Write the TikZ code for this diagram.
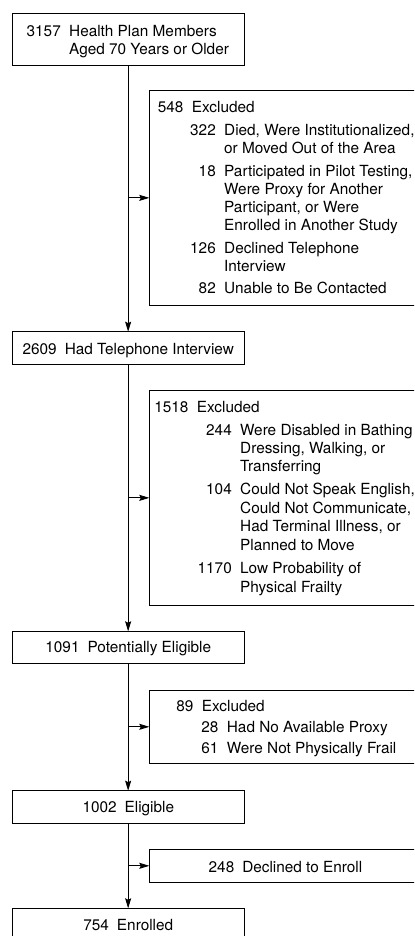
\documentclass[tikz,border=0pt]{standalone}
\usepackage{fontspec}
\setmainfont{TeX Gyre Heros}
\usetikzlibrary{arrows.meta}
\newcommand\flowfont{\fontsize{15.4}{18.2}\selectfont}
\begin{document}
\begin{tikzpicture}[x=1bp,y=-1bp,
  box/.style={draw=black, line width=0.85bp, inner sep=0pt, outer sep=0pt, anchor=north west},
  mainbox/.style={box, minimum width=232.3bp, minimum height=32.6bp},
  exclbox/.style={box, minimum width=272.4bp},
  txt/.style={inner sep=0pt, anchor=base west, font=\flowfont},
  num/.style={inner sep=0pt, anchor=base east, font=\flowfont},
  ctr/.style={inner sep=0pt, anchor=base, font=\flowfont},
  flow/.style={line width=0.85bp, -{Stealth[length=10bp,width=6bp,inset=1.5bp]}},
]
\useasboundingbox (0,0) rectangle (414,936);
\clip (0,0) rectangle (414,936);

% main boxes
\node[mainbox, minimum height=51.7bp] (b1) at (12,13.3) {};
\node[mainbox] (b2) at (12,331.7) {};
\node[mainbox] (b3) at (12,631.3) {};
\node[mainbox] (b4) at (12,790.7) {};
\node[mainbox] (b5) at (12,908.3) {};

% exclusion boxes
\node[exclbox, minimum height=214.3bp] (e1) at (149.3,90.7) {};
\node[exclbox, minimum height=214.3bp] (e2) at (149.3,390.7) {};
\node[exclbox, minimum height=73.6bp] (e3) at (149.3,690) {};
\node[exclbox, minimum height=33bp] (e4) at (149.3,849.3) {};

% connectors
\draw[flow] (b1.south) -- (b2.north);
\draw[flow] (b2.south) -- (b3.north);
\draw[flow] (b3.south) -- (b4.north);
\draw[flow] (b4.south) -- (b5.north);
\coordinate (j1) at (e1.west -| b1.south);
\coordinate (j2) at (e2.west -| b2.south);
\coordinate (j3) at (e3.west -| b3.south);
\coordinate (j4) at (e4.west -| b4.south);
\draw[flow] (j1) -- (e1.west);
\draw[flow] (j2) -- (e2.west);
\draw[flow] (j3) -- (e3.west);
\draw[flow] (j4) -- (e4.west);

% box 1 text
\node[num] (n1) at (61,36) {3157};
\node[txt] (t1a) at (69,36) {Health Plan Members};
\node[txt] (t1b) at (69,54) {Aged 70 Years or Older};

% exclusion 1 text
\node[num] (n2) at (183.7,112.7) {548};
\node[txt] (t2) at (191.7,112.7) {Excluded};
\node[num] (n2a) at (216,135) {322};
\node[txt] (t2a1) at (224,135) {Died, Were Institutionalized,};
\node[txt] (t2a2) at (224,153.3) {or Moved Out of the Area};
\node[num] (n2b) at (216,176) {18};
\node[txt] (t2b1) at (224,176) {Participated in Pilot Testing,};
\node[txt] (t2b2) at (224,194.5) {Were Proxy for Another};
\node[txt] (t2b3) at (224,212.7) {Participant, or Were};
\node[txt] (t2b4) at (224,230.9) {Enrolled in Another Study};
\node[num] (n2c) at (216,253) {126};
\node[txt] (t2c1) at (224,253) {Declined Telephone};
\node[txt] (t2c2) at (224,271.2) {Interview};
\node[num] (n2d) at (216,293.2) {82};
\node[txt] (t2d1) at (224,293.2) {Unable to Be Contacted};

% box 2 text
\node[ctr] (t3) at (128.3,354.3) {2609\hspace{8bp}Had Telephone Interview};

% exclusion 2 text
\node[num] (n4) at (188.7,412.7) {1518};
\node[txt] (t4) at (196.7,412.7) {Excluded};
\node[num] (n4a) at (232,435) {244};
\node[txt] (t4a1) at (240,435) {Were Disabled in Bathing};
\node[txt] (t4a2) at (240,453.5) {Dressing, Walking, or};
\node[txt] (t4a3) at (240,471.8) {Transferring};
\node[num] (n4b) at (232,494.5) {104};
\node[txt] (t4b1) at (240,494.5) {Could Not Speak English,};
\node[txt] (t4b2) at (240,513) {Could Not Communicate,};
\node[txt] (t4b3) at (240,531.5) {Had Terminal Illness, or};
\node[txt] (t4b4) at (240,550) {Planned to Move};
\node[num] (n4c) at (232,573.8) {1170};
\node[txt] (t4c1) at (240,573.8) {Low Probability of};
\node[txt] (t4c2) at (240,592.2) {Physical Frailty};

% box 3 text
\node[ctr] (t5) at (128.3,652.3) {1091\hspace{8bp}Potentially Eligible};

% exclusion 3 text
\node[num] (n6) at (193.7,711.7) {89};
\node[txt] (t6) at (201.7,711.7) {Excluded};
\node[num] (n6a) at (218.7,732.7) {28};
\node[txt] (t6a) at (226.7,732.7) {Had No Available Proxy};
\node[num] (n6b) at (218.7,753.3) {61};
\node[txt] (t6b) at (226.7,753.3) {Were Not Physically Frail};

% box 4 text
\node[ctr] (t7) at (128.3,812.3) {1002\hspace{8bp}Eligible};

% exclusion 4 text
\node[ctr] (t8) at (285.5,872.3) {248\hspace{8bp}Declined to Enroll};

% box 5 text
\node[ctr] (t9) at (128.3,930) {754\hspace{8bp}Enrolled};
\end{tikzpicture}
\end{document}
